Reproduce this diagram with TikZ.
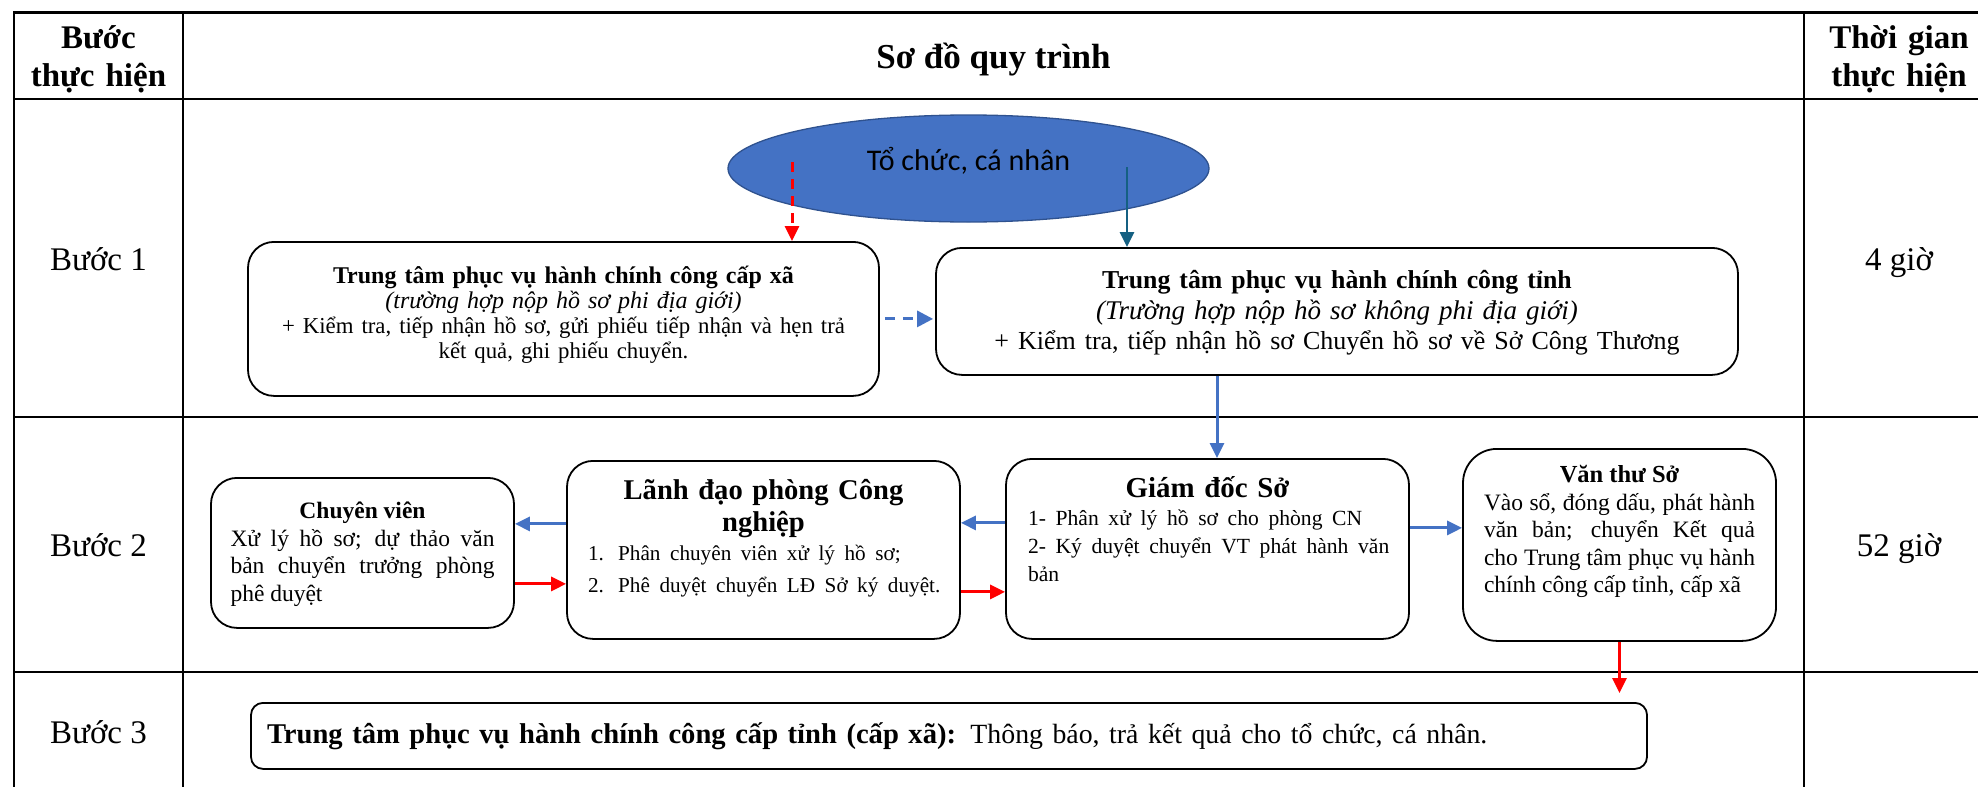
\documentclass[tikz,border=0pt]{standalone}
\usepackage{fontspec}
\setmainfont{Liberation Serif}
\newfontfamily\calibri{Carlito}
\usetikzlibrary{arrows.meta,shapes.geometric}
\definecolor{accblue}{HTML}{4472C4}
\definecolor{accdark}{HTML}{2F528F}
\definecolor{tealarr}{HTML}{156082}

\begin{document}
\begin{tikzpicture}[x=1pt, y=-1pt, >={Triangle[length=15pt,width=14pt]},
  grid/.style={line width=2.4pt},
  cell/.style={anchor=base, inner sep=0pt},
  proc/.style={draw, fill=white, line width=1.8pt, rounded corners=26pt, anchor=north, inner ysep=0pt, inner xsep=20pt},
  redarr/.style={->, red, line width=3pt},
  bluearr/.style={->, accblue, line width=3pt}]
\useasboundingbox (0,0) rectangle (1978,787);

% khung bang
\draw[grid] (1978,12.5) -- (14,12.5) -- (14,787);
\foreach \y in {99,417,672} \draw[grid] (14,\y) -- (1978,\y);
\foreach \x in {183,1804} \draw[grid] (\x,12.5) -- (\x,787);

% tieu de
\node (hbuoc) at (98.5,48) [cell, text width=165pt, align=center, font={\fontsize{33}{38}\selectfont\bfseries}] {Bước\\thực hiện};
\node (hsodo) at (993.5,68) [cell, font={\fontsize{35}{40}\selectfont\bfseries}] {Sơ đồ quy trình};
\node (htg) at (1899,48) [cell, text width=170pt, align=center, font={\fontsize{33}{38}\selectfont\bfseries}] {Thời gian\\thực hiện};

% cot buoc, cot thoi gian
\node (b1) at (98.5,270) [cell, font={\fontsize{33}{38}\selectfont}] {Bước 1};
\node (b2) at (98.5,556) [cell, font={\fontsize{33}{38}\selectfont}] {Bước 2};
\node (b3) at (98.5,743) [cell, font={\fontsize{33}{38}\selectfont}] {Bước 3};
\node (t1) at (1899,270) [cell, font={\fontsize{33}{38}\selectfont}] {4 giờ};
\node (t2) at (1899,556) [cell, font={\fontsize{33}{38}\selectfont}] {52 giờ};

% buoc 1
\node (tc) at (968.5,168.5) [ellipse, draw=accdark, line width=1.3pt, fill=accblue, minimum width=481pt, minimum height=107pt, inner sep=0pt, text height=28pt, text depth=25pt, font={\calibri\fontsize{30}{36}\selectfont}] {Tổ chức, cá nhân};
\node (xa) at (563.5,241) [proc, text width=591pt, text height=42pt, text depth=112pt, align=center, font={\fontsize{24}{25}\selectfont}] {\textbf{Trung tâm phục vụ hành chính công cấp xã}\\\textit{(trường hợp nộp hồ sơ phi địa giới)}\\\fontsize{22.8}{25}\selectfont + Kiểm tra, tiếp nhận hồ sơ, gửi phiếu tiếp nhận và hẹn trả\\kết quả, ghi phiếu chuyển.};
\node (tinh) at (1337,247) [proc, text width=762pt, text height=41pt, text depth=86pt, align=center, font={\fontsize{27}{30.5}\selectfont}] {\textbf{\fontsize{25.8}{30.5}\selectfont Trung tâm phục vụ hành chính công tỉnh}\\\textit{(Trường hợp nộp hồ sơ không phi địa giới)}\\\fontsize{26}{30.5}\selectfont + Kiểm tra, tiếp nhận hồ sơ Chuyển hồ sơ về Sở Công Thương};

% buoc 2
\node (cv) at (362.5,477) [proc, inner xsep=19.5pt, text width=264pt, text height=41pt, text depth=109pt, align=justify, font={\fontsize{23.5}{27.5}\selectfont}] {\makebox[\linewidth]{\bfseries Chuyên viên}\par Xử lý hồ sơ; dự thảo văn\linebreak bản chuyển trưởng phòng\linebreak phê duyệt};
\node (ld) at (763.5,460) [proc, inner xsep=21pt, text width=351pt, text height=39pt, text depth=139pt, align=left, font={\fontsize{28.6}{32}\selectfont\bfseries}] {\makebox[\linewidth]{Lãnh đạo phòng Công}\par\makebox[\linewidth]{nghiệp}\par\fontsize{21.2}{29}\selectfont\mdseries\mbox{1. Phân chuyên viên xử lý hồ sơ;}\\\mbox{2. Phê duyệt chuyển LĐ Sở ký duyệt.}};
\node (gd) at (1207.5,458) [proc, inner xsep=22pt, text width=359pt, text height=39pt, text depth=141pt, align=left, font={\fontsize{28.9}{28}\selectfont\bfseries}] {\makebox[\linewidth]{Giám đốc Sở}\par\fontsize{21.6}{28}\selectfont\mdseries\mbox{1- Phân xử lý hồ sơ cho phòng CN}\\\mbox{2- Ký duyệt chuyển VT phát hành văn}\\bản};
\node (vt) at (1619.5,448) [proc, rounded corners=34pt, inner xsep=21pt, text width=271pt, text height=34pt, text depth=158pt, align=justify, font={\fontsize{23.5}{27.5}\selectfont}] {\makebox[\linewidth]{\bfseries\fontsize{24.5}{27.5}\selectfont Văn thư Sở}\par Vào sổ, đóng dấu, phát hành\linebreak văn bản; chuyển Kết quả\linebreak cho Trung tâm phục vụ hành\linebreak chính công cấp tỉnh, cấp xã};

% buoc 3
\node (kq) at (949,702) [proc, rounded corners=12pt, inner xsep=16pt, text width=1364pt, text height=41pt, text depth=25pt, align=left, font={\fontsize{28.6}{33}\selectfont}] {\textbf{Trung tâm phục vụ hành chính công cấp tỉnh (cấp xã):} {\fontsize{27.8}{33}\selectfont Thông báo, trả kết quả cho tổ chức, cá nhân.}};

% mui ten
\coordinate (rs) at ([xshift=-176.5pt,yshift=6.5pt]tc.center);
\coordinate (ts) at ([xshift=158.5pt,yshift=1.5pt]tc.center);
\coordinate (gdin) at ([xshift=9.5pt]gd.north);
\coordinate (ldw) at ([yshift=26pt]ld.west);
\coordinate (cve) at ([yshift=-31pt]cv.east);
\coordinate (gdw) at ([yshift=26pt]gd.west);
\coordinate (lde) at ([yshift=-42pt]ld.east);
\coordinate (gde) at ([yshift=21pt]gd.east);
\draw[redarr, dash pattern=on 10pt off 7pt] (rs) -- (rs |- xa.north);
\draw[->, tealarr, line width=2.8pt] (ts) -- (ts |- tinh.north);
\draw[bluearr, dash pattern=on 10pt off 8pt, >={Triangle[length=16pt,width=16pt]}, shorten <=5pt, shorten >=2pt] (xa.east) -- (xa.east -| tinh.west);
\draw[bluearr] (gdin |- tinh.south) -- (gdin);
\draw[bluearr] (ldw) -- (ldw -| cv.east);
\draw[redarr] (cve) -- (cve -| ld.west);
\draw[bluearr] (gdw) -- (gdw -| ld.east);
\draw[redarr] (lde) -- (lde -| gd.west);
\draw[bluearr] (gde) -- (gde -| vt.west);
\draw[redarr, shorten >=9pt] (vt.south) -- (vt.south |- kq.north);
\end{tikzpicture}
\end{document}
